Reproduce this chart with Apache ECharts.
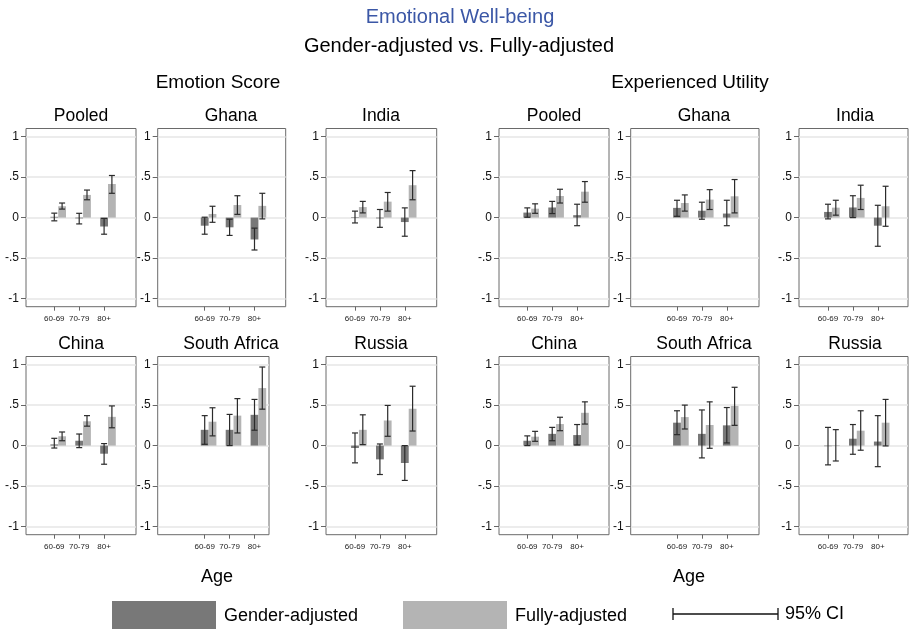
<!DOCTYPE html>
<html><head><meta charset="utf-8">
<script src="https://cdn.jsdelivr.net/npm/echarts@6/dist/echarts.min.js"></script>
<style>html,body{margin:0;padding:0;background:#fff}#chart{width:909px;height:629px}</style>
</head><body><div id="chart"></div>
<script>
// ---------- data ----------
const ageGroups = ['60-69', '70-79', '80+'];
const yTicks = [-1, -0.5, 0, 0.5, 1];
const yTickLabels = ['-1', '-.5', '0', '.5', '1'];

// Emotion Score
const emoPooledG = [0.01, -0.01, -0.11];
const emoPooledGCI = [[-0.04, 0.055], [-0.078, 0.053], [-0.205, -0.01]];
const emoPooledF = [0.14, 0.28, 0.415];
const emoPooledFCI = [[0.105, 0.18], [0.22, 0.34], [0.30, 0.52]];

const emoGhanaG = [-0.10, -0.12, -0.27];
const emoGhanaGCI = [[-0.205, 0.005], [-0.22, -0.02], [-0.40, -0.13]];
const emoGhanaF = [0.045, 0.155, 0.145];
const emoGhanaFCI = [[-0.058, 0.14], [0.04, 0.27], [-0.016, 0.30]];

const emoIndiaG = [0.005, -0.01, -0.055];
const emoIndiaGCI = [[-0.066, 0.08], [-0.12, 0.10], [-0.23, 0.12]];
const emoIndiaF = [0.13, 0.197, 0.40];
const emoIndiaFCI = [[0.058, 0.20], [0.08, 0.31], [0.22, 0.58]];

const emoChinaG = [0.015, 0.06, -0.10];
const emoChinaGCI = [[-0.03, 0.09], [-0.025, 0.143], [-0.23, 0.025]];
const emoChinaF = [0.115, 0.30, 0.355];
const emoChinaFCI = [[0.06, 0.168], [0.24, 0.37], [0.22, 0.49]];

const emoSAfricaG = [0.195, 0.195, 0.38];
const emoSAfricaGCI = [[0.016, 0.37], [0.0, 0.385], [0.19, 0.57]];
const emoSAfricaF = [0.295, 0.37, 0.71];
const emoSAfricaFCI = [[0.12, 0.467], [0.156, 0.58], [0.45, 0.97]];

const emoRussiaG = [-0.03, -0.17, -0.215];
const emoRussiaGCI = [[-0.213, 0.156], [-0.357, 0.02], [-0.43, 0.0]];
const emoRussiaF = [0.195, 0.31, 0.455];
const emoRussiaFCI = [[0.012, 0.38], [0.115, 0.496], [0.18, 0.733]];

// Experienced Utility
const euPooledG = [0.062, 0.125, 0.03];
const euPooledGCI = [[0.004, 0.12], [0.05, 0.2], [-0.1, 0.165]];
const euPooledF = [0.11, 0.267, 0.32];
const euPooledFCI = [[0.053, 0.17], [0.18, 0.35], [0.19, 0.445]];

const euGhanaG = [0.12, 0.085, 0.05];
const euGhanaGCI = [[0.016, 0.214], [-0.02, 0.19], [-0.1, 0.214]];
const euGhanaF = [0.18, 0.222, 0.263];
const euGhanaFCI = [[0.08, 0.28], [0.1, 0.345], [0.058, 0.47]];

const euIndiaG = [0.07, 0.125, -0.10];
const euIndiaGCI = [[-0.016, 0.165], [0.0, 0.27], [-0.354, 0.152]];
const euIndiaF = [0.123, 0.243, 0.14];
const euIndiaFCI = [[0.03, 0.214], [0.1, 0.40], [-0.107, 0.387]];

const euChinaG = [0.06, 0.145, 0.13];
const euChinaGCI = [[0.0, 0.12], [0.06, 0.225], [0.008, 0.26]];
const euChinaF = [0.11, 0.266, 0.405];
const euChinaFCI = [[0.053, 0.176], [0.184, 0.35], [0.266, 0.54]];

const euSAfricaG = [0.283, 0.145, 0.25];
const euSAfricaGCI = [[0.135, 0.43], [-0.152, 0.44], [0.033, 0.47]];
const euSAfricaF = [0.352, 0.254, 0.49];
const euSAfricaFCI = [[0.205, 0.50], [-0.033, 0.54], [0.25, 0.72]];

const euRussiaG = [-0.005, 0.085, 0.05];
const euRussiaGCI = [[-0.238, 0.225], [-0.107, 0.26], [-0.26, 0.37]];
const euRussiaF = [0.003, 0.184, 0.283];
const euRussiaFCI = [[-0.19, 0.197], [-0.057, 0.43], [-0.004, 0.57]];

// ---------- panels ----------
const panels = [
  ['Pooled', emoPooledG, emoPooledGCI, emoPooledF, emoPooledFCI],
  ['Ghana', emoGhanaG, emoGhanaGCI, emoGhanaF, emoGhanaFCI],
  ['India', emoIndiaG, emoIndiaGCI, emoIndiaF, emoIndiaFCI],
  ['Pooled', euPooledG, euPooledGCI, euPooledF, euPooledFCI],
  ['Ghana', euGhanaG, euGhanaGCI, euGhanaF, euGhanaFCI],
  ['India', euIndiaG, euIndiaGCI, euIndiaF, euIndiaFCI],
  ['China', emoChinaG, emoChinaGCI, emoChinaF, emoChinaFCI],
  ['South Africa', emoSAfricaG, emoSAfricaGCI, emoSAfricaF, emoSAfricaFCI],
  ['Russia', emoRussiaG, emoRussiaGCI, emoRussiaF, emoRussiaFCI],
  ['China', euChinaG, euChinaGCI, euChinaF, euChinaFCI],
  ['South Africa', euSAfricaG, euSAfricaGCI, euSAfricaF, euSAfricaFCI],
  ['Russia', euRussiaG, euRussiaGCI, euRussiaF, euRussiaFCI]
];

// layout: [boxLeft, boxRight, firstCategoryX]
const boxLayout = [
  [26, 136, 54.3], [157.7, 285.7, 204.7], [326, 436.7, 355],
  [499, 609, 527.3], [630.7, 759, 677], [799, 908, 828],
  [26, 136, 54.3], [157.7, 269, 204.7], [326, 436.7, 355],
  [499, 609, 527.3], [630.7, 759, 677], [799, 908, 828]
];
const titleCenters = [81, 231, 381, 554, 704, 855];
const rowTops = [128.5, 356.5];
const boxHeight = 178.2;
const catSpacing = 24.9;
const barPx = 7.8;
const FONT = "'Liberation Sans', Arial, Helvetica, sans-serif";
const darkCol = '#787878';
const lightCol = '#b4b4b4';

const grids = [], xAxes = [], yAxes = [], series = [], graphics = [];

function barRender(offsetPx, color) {
  return function (params, api) {
    const c = api.value(0), v = api.value(1);
    const p0 = api.coord([c, 0]);
    const p1 = api.coord([c, v]);
    const cx = p0[0] + offsetPx;
    return {
      type: 'rect',
      shape: { x: cx - barPx / 2, y: Math.min(p0[1], p1[1]), width: barPx, height: Math.max(0.6, Math.abs(p1[1] - p0[1])) },
      style: { fill: color }
    };
  };
}
function ciRender(offsetPx) {
  return function (params, api) {
    const c = api.value(0);
    const lo = api.coord([c, api.value(1)]);
    const hi = api.coord([c, api.value(2)]);
    const x = lo[0] + offsetPx;
    const st = { stroke: '#2b2b2b', lineWidth: 1.2 };
    return {
      type: 'group',
      children: [
        { type: 'line', shape: { x1: x, y1: lo[1], x2: x, y2: hi[1] }, style: st },
        { type: 'line', shape: { x1: x - 3, y1: lo[1], x2: x + 3, y2: lo[1] }, style: st },
        { type: 'line', shape: { x1: x - 3, y1: hi[1], x2: x + 3, y2: hi[1] }, style: st }
      ]
    };
  };
}

panels.forEach((p, i) => {
  const [title, g, gci, f, fci] = p;
  const [bl, br, c1] = boxLayout[i];
  const row = i < 6 ? 0 : 1;
  const top = rowTops[row];
  grids.push({
    left: bl, top: top, width: br - bl, height: boxHeight,
    show: true, borderColor: '#6a6a6a', borderWidth: 1, backgroundColor: 'transparent',
    containLabel: false, outerBoundsMode: 'none'
  });
  xAxes.push({
    type: 'value', gridIndex: i, position: 'bottom',
    min: 1 - (c1 - bl) / catSpacing, max: 1 + (br - c1) / catSpacing,
    axisLine: { show: false, onZero: false },
    axisTick: { show: true, customValues: [1, 2, 3], length: 4, lineStyle: { color: '#666' } },
    axisLabel: {
      show: true, customValues: [1, 2, 3], margin: 8, fontSize: 8, color: '#222', fontFamily: FONT,
      formatter: v => ageGroups[Math.round(v) - 1]
    },
    splitLine: { show: false }
  });
  yAxes.push({
    type: 'value', gridIndex: i, position: 'left', min: -1.1, max: 1.1,
    axisLine: { show: false, onZero: false },
    axisTick: { show: true, customValues: yTicks, length: 5, lineStyle: { color: '#666' } },
    axisLabel: {
      show: true, customValues: yTicks, margin: 7, fontSize: 12, color: '#111', fontFamily: FONT,
      formatter: v => { const k = yTicks.findIndex(t => Math.abs(t - v) < 1e-6); return k >= 0 ? yTickLabels[k] : ''; }
    },
    splitLine: { show: true, lineStyle: { color: '#e6e6e6', width: 1.5 } }
  });
  const gData = g.map((v, k) => [k + 1, v]);
  const fData = f.map((v, k) => [k + 1, v]);
  const gciData = gci.map((r, k) => [k + 1, r[0], r[1]]);
  const fciData = fci.map((r, k) => [k + 1, r[0], r[1]]);
  series.push({ type: 'custom', name: 'Gender-adjusted', xAxisIndex: i, yAxisIndex: i, data: gData, renderItem: barRender(0, darkCol), z: 2, silent: true });
  series.push({ type: 'custom', name: 'Fully-adjusted', xAxisIndex: i, yAxisIndex: i, data: fData, renderItem: barRender(barPx, lightCol), z: 2, silent: true });
  series.push({ type: 'custom', name: '95% CI', xAxisIndex: i, yAxisIndex: i, data: gciData, renderItem: ciRender(0), z: 3, silent: true });
  series.push({ type: 'custom', name: '95% CI', xAxisIndex: i, yAxisIndex: i, data: fciData, renderItem: ciRender(barPx), z: 3, silent: true });

  graphics.push({
    type: 'text', x: titleCenters[i % 6], y: row === 0 ? 116 : 344,
    style: { text: title, fontSize: 17.5, fontFamily: FONT, fill: '#000', textAlign: 'center', textVerticalAlign: 'middle' }
  });
});

function txt(t, x, y, size, color, align) {
  graphics.push({ type: 'text', x: x, y: y, style: { text: t, fontSize: size, fontFamily: FONT, fill: color || '#000', textAlign: align || 'center', textVerticalAlign: 'middle' } });
}
txt('Emotional Well-being', 460, 17, 20, '#3b57a6');
txt('Gender-adjusted vs. Fully-adjusted', 459, 46, 20, '#000');
txt('Emotion Score', 218, 83, 19, '#000');
txt('Experienced Utility', 690, 83, 19, '#000');
txt('Age', 217, 577, 18, '#000');
txt('Age', 689, 577, 18, '#000');

// legend
graphics.push({ type: 'rect', shape: { x: 112, y: 601, width: 104, height: 28 }, style: { fill: darkCol } });
txt('Gender-adjusted', 224, 616, 18, '#000', 'left');
graphics.push({ type: 'rect', shape: { x: 403, y: 601, width: 104, height: 28 }, style: { fill: lightCol } });
txt('Fully-adjusted', 515, 616, 18, '#000', 'left');
const ciSt = { stroke: '#111', lineWidth: 1.3 };
graphics.push({ type: 'line', shape: { x1: 673, y1: 614, x2: 778, y2: 614 }, style: ciSt });
graphics.push({ type: 'line', shape: { x1: 673, y1: 608, x2: 673, y2: 620 }, style: ciSt });
graphics.push({ type: 'line', shape: { x1: 778, y1: 608, x2: 778, y2: 620 }, style: ciSt });
txt('95% CI', 785, 614, 18, '#000', 'left');

const chart = echarts.init(document.getElementById('chart'), null, { renderer: 'canvas' });
chart.setOption({
  backgroundColor: '#fff',
  animation: false,
  grid: grids,
  xAxis: xAxes,
  yAxis: yAxes,
  series: series,
  graphic: graphics
});
</script></body></html>
